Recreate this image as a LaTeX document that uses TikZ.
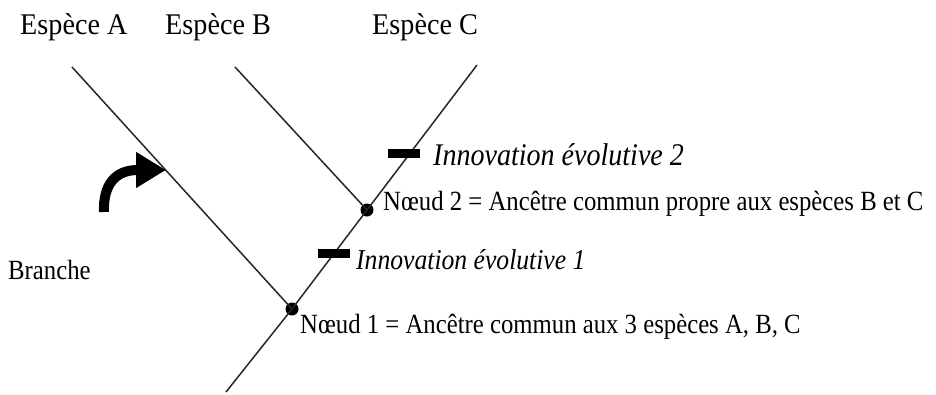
\documentclass[tikz,border=0pt]{standalone}
\usepackage{fontspec}
\setmainfont[FakeStretch=0.89]{Liberation Serif}
\newfontfamily\spfont[FakeStretch=0.94]{Liberation Serif}
\usepackage{tikz}
\usetikzlibrary{arrows.meta, positioning, calc}
\tikzset{
  % Branches of the tree
  branch/.style={line width=1.5pt, draw=black!85},
  % Nodes (ancestors)
  ancestor/.style={circle, fill=black, inner sep=0pt, minimum size=13pt},
  % Evolutionary innovation marks
  innomark/.style={rectangle, fill=black, inner sep=0pt, minimum width=32pt, minimum height=9pt},
  % Texts
  species/.style={anchor=base west, inner sep=0pt, font=\spfont\fontsize{30}{33}\selectfont},
  txtlabel/.style={anchor=base west, inner sep=0pt, font=\fontsize{27.8}{30}\selectfont},
  innolabel/.style={anchor=base west, inner sep=0pt, font=\fontsize{#1}{32}\selectfont\itshape},
  innolabel/.default={30},
  % Pointer arrow
  pointer/.style={-{Triangle[length=30pt, width=34pt]}, line width=10pt},
}
\begin{document}
\begin{tikzpicture}[x=1pt, y=-1pt]
  \useasboundingbox (0,0) rectangle (936,394);

  % Tips and root
  \coordinate (tipA) at (72,67);
  \coordinate (tipB) at (235,67);
  \coordinate (tipC) at (477,65);
  \coordinate (root) at (226,392);

  % Ancestors
  \node[ancestor] (n1) at (292,309) {};
  \node[ancestor] (n2) at (367,210) {};

  % Branches
  \draw[branch] (tipA) -- (n1.center);
  \draw[branch] (tipB) -- (n2.center);
  \draw[branch] (tipC) -- (n2.center) -- (n1.center) -- (root);

  % Innovations
  \node[innomark] (inno2) at (404,153) {};
  \node[innomark] (inno1) at (334,253) {};

  % Labels
  \node[species] (spA) at (20,34) {Espèce A};
  \node[species] (spB) at (165,34) {Espèce B};
  \node[species] (spC) at (372,34) {Espèce C};
  \node[innolabel=31.5] (lab2) at (433,165) {Innovation évolutive 2};
  \node[innolabel=28.8] (lab1) at (356,269) {Innovation évolutive 1};
  \node[txtlabel] (labn2) at (383,210) {Nœud 2 = Ancêtre commun propre aux espèces B et C};
  \node[txtlabel] (labn1) at (300,333) {Nœud 1 = Ancêtre commun aux 3 espèces A, B, C};
  \node[txtlabel] (labbr) at (8,279) {Branche};

  % Pointer to a branch
  \coordinate (brtail) at (104,212);
  \coordinate (brtip) at (166,170);
  \draw[pointer] (brtail) .. controls (103,185) and (115,170) .. (brtip);
\end{tikzpicture}
\end{document}
